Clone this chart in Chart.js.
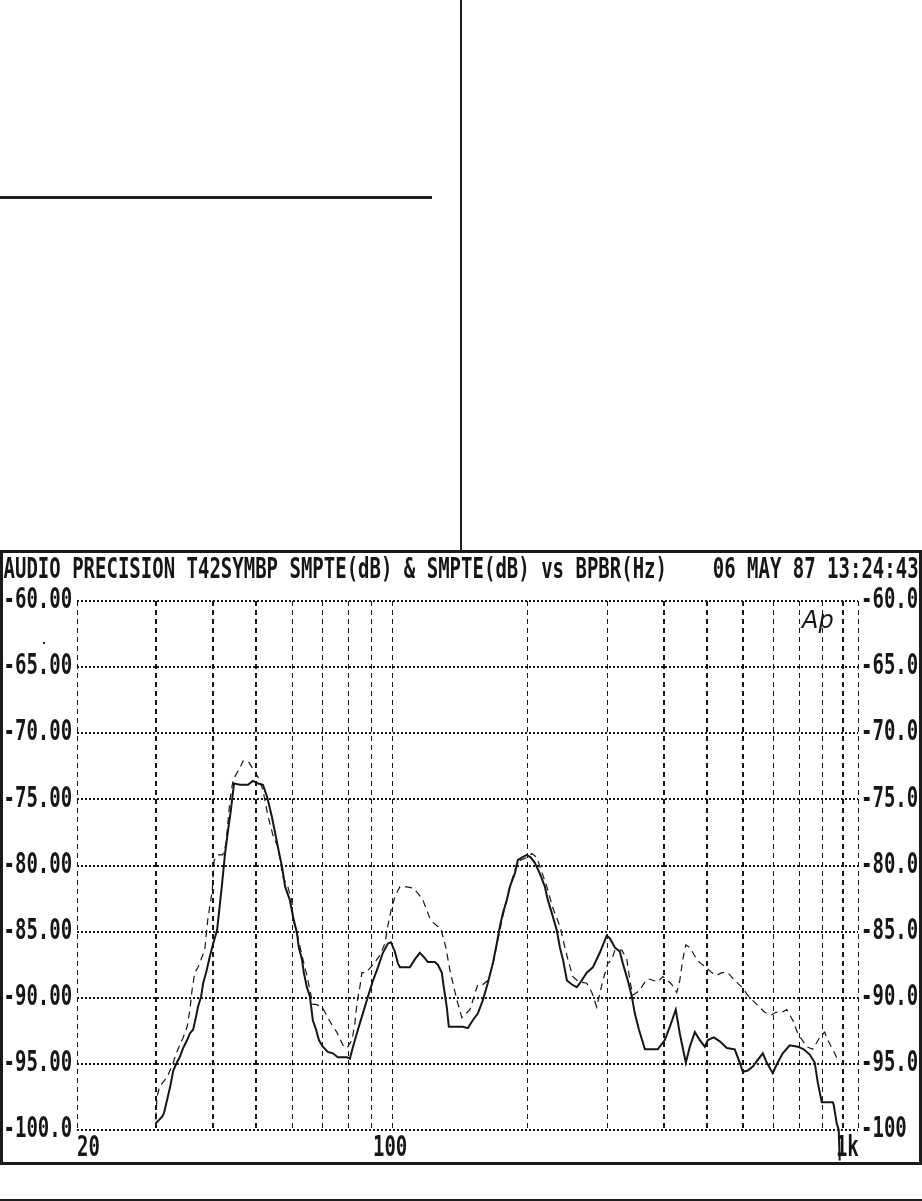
<!DOCTYPE html>
<html>
<head>
<meta charset="utf-8">
<title>SMPTE vs BPBR</title>
<script src="https://cdn.jsdelivr.net/npm/chart.js@4.4.1/dist/chart.umd.min.js"></script>
<style>
  body { margin: 0; background: #fff; width: 922px; height: 1201px; position: relative; overflow: hidden; }
  .rule { position: absolute; background: #1e1e1e; }
  #frame { position: absolute; left: 0; top: 550px; width: 916px; height: 609px; border: 3px solid #1a1a1a; background: #fff; }
  #frame canvas { display: block; }
</style>
</head>
<body>
<div class="rule" style="left:460px;top:0;width:1.5px;height:551px"></div>
<div class="rule" style="left:0;top:196px;width:432px;height:2.5px"></div>
<div id="frame"><canvas id="apChart" width="916" height="609"></canvas></div>
<div class="rule" style="left:0;top:1199px;width:922px;height:1.5px"></div>
<div class="rule" style="left:43px;top:642px;width:2px;height:2px"></div>
<script>
// ---- data ----
const titleText = 'AUDIO PRECISION T42SYMBP SMPTE(dB) & SMPTE(dB) vs BPBR(Hz)    06 MAY 87 13:24:43';

const xGridTicks = [20, 30, 40, 50, 60, 70, 80, 90, 100, 200, 300, 400, 500, 600, 700, 800, 900, 1000, 1080];
const xLabelValues = [20, 100, 1000];
const xLabels = ['20', '100', '1k'];

const yTicks = [-60, -65, -70, -75, -80, -85, -90, -95, -100];
const yLabelsLeft = ['-60.00', '-65.00', '-70.00', '-75.00', '-80.00', '-85.00', '-90.00', '-95.00', '-100.0'];
const yLabelsRight = ['-60.0', '-65.0', '-70.0', '-75.0', '-80.0', '-85.0', '-90.0', '-95.0', '-100'];

// solid trace
const solidFreq = [29.9, 30.9, 31.2, 31.7, 32.2, 32.7, 33.3, 33.8, 34.4, 35.1, 35.6, 36.2, 36.7, 37.1, 37.7, 38.1, 38.8, 39.4, 40.1, 40.9,
  41.9, 42.6, 43.2, 43.9, 44.6, 46.0, 47.9, 49.1, 50.4, 51.7, 52.8, 54.1, 55.0, 55.8, 57.0, 57.9, 59.3, 60.3, 61.5, 62.1,
  63.1, 63.7, 64.7, 65.7, 66.7, 67.8, 68.8, 70.2, 72.0, 73.9, 75.8, 79.4, 80.6, 81.9, 84.0, 86.1, 88.4, 90.7, 93.0, 95.4,
  97.9, 99.4, 101.4, 103.0, 104.1, 109.5, 112.3, 115.2, 118.2, 120.0, 124.4, 126.3, 128.9, 130.2, 132.2, 133.6, 135.7, 143.5, 147.2, 151.0,
  154.9, 158.9, 163.0, 167.3, 170.7, 173.4, 176.1, 179.7, 182.5, 187.2, 190.0, 193.9, 199.0, 203.1, 207.3, 212.6, 218.2, 221.5, 226.1, 231.9,
  235.6, 239.3, 244.2, 250.5, 256.9, 260.9, 270.2, 278.8, 288.8, 299.3, 304.0, 312.0, 320.0, 324.9, 333.3, 340.2, 345.5, 352.7, 363.7, 388.4,
  402.6, 413.0, 425.8, 434.6, 448.2, 457.5, 469.3, 481.5, 493.9, 501.5, 517.1, 533.2, 552.6, 575.5, 590.4, 599.6, 615.0, 631.0, 647.3, 664.1,
  677.7, 698.7, 716.8, 735.4, 762.2, 794.1, 818.6, 844.0, 865.9, 879.3, 897.5, 949.3, 954.0, 968.7, 978.8, 983.7];
const solidDb = [-99.5, -99.0, -98.7, -97.7, -96.7, -95.5, -94.9, -94.5, -93.8, -93.2, -92.7, -92.4, -91.5, -90.7, -89.9, -88.9, -87.9, -86.9, -85.9, -84.9,
  -81.6, -79.1, -77.5, -75.8, -73.8, -73.9, -73.9, -73.6, -73.8, -73.9, -74.8, -76.3, -77.5, -78.6, -80.1, -81.6, -82.6, -83.9, -85.1, -86.2,
  -87.1, -88.1, -89.2, -89.9, -91.7, -92.4, -93.2, -93.7, -94.1, -94.2, -94.5, -94.5, -94.6, -93.7, -92.4, -91.2, -89.9, -88.7, -87.7, -86.6,
  -85.9, -85.8, -86.5, -87.4, -87.7, -87.7, -87.1, -86.6, -87.0, -87.3, -87.3, -87.5, -88.1, -89.2, -90.7, -92.2, -92.2, -92.2, -92.3, -91.7,
  -91.2, -90.2, -88.9, -87.4, -85.9, -84.6, -83.6, -82.6, -81.6, -80.6, -79.6, -79.4, -79.2, -79.4, -79.8, -80.6, -81.6, -82.6, -83.6, -84.9,
  -86.2, -87.1, -88.7, -89.0, -89.2, -88.9, -88.1, -87.7, -86.6, -85.3, -85.5, -86.2, -86.5, -87.4, -88.7, -89.9, -91.2, -92.4, -93.9, -93.9,
  -93.2, -92.2, -90.9, -92.7, -94.9, -93.7, -92.6, -93.2, -93.7, -93.2, -93.0, -93.3, -93.8, -93.9, -94.9, -95.6, -95.5, -95.2, -94.7, -94.2,
  -94.9, -95.7, -94.9, -94.2, -93.6, -93.7, -93.9, -94.3, -94.9, -96.4, -97.9, -97.9, -98.1, -99.5, -100.0, -102.3];

// dashed trace
const dashFreq = [29.9, 30.1, 30.5, 31.7, 32.7, 33.2, 34.4, 35.1, 35.6, 36.0, 36.5, 37.1, 38.4, 39.0, 39.9, 40.3, 41.1, 42.1, 42.8, 43.7,
  44.4, 46.0, 46.7, 47.9, 49.6, 50.4, 51.7, 53.0, 54.4, 55.8, 57.3, 58.7, 59.9, 60.3, 61.5, 63.1, 64.7, 65.7, 66.7, 67.8,
  69.9, 71.0, 73.9, 75.4, 77.8, 79.4, 81.5, 82.7, 83.6, 84.8, 85.7, 87.5, 90.7, 93.9, 96.4, 97.9, 99.9, 101.9, 104.1, 106.7,
  111.2, 114.1, 117.0, 121.3, 123.2, 128.3, 131.6, 134.3, 137.1, 139.3, 142.8, 145.8, 148.8, 151.0, 154.9, 158.9, 163.0, 167.3, 170.7, 176.1,
  182.5, 190.0, 199.0, 204.2, 209.4, 220.4, 227.2, 235.6, 241.7, 245.4, 251.7, 259.6, 270.2, 277.4, 284.4, 293.4, 301.0, 307.2, 312.0, 323.3,
  331.6, 336.8, 342.0, 349.1, 354.5, 367.2, 372.8, 388.4, 398.6, 408.9, 417.3, 428.0, 434.6, 441.4, 448.2, 457.5, 474.1, 483.8, 496.3, 511.8,
  525.1, 538.7, 555.3, 575.5, 596.5, 621.3, 644.0, 670.8, 695.0, 709.4, 731.8, 750.6, 774.0, 794.1, 831.1, 856.9, 888.2, 911.1, 925.2, 958.8, 973.7];
const dashDb = [-99.2, -97.5, -96.7, -96.0, -94.9, -94.2, -93.0, -92.2, -90.9, -89.4, -88.1, -87.7, -86.4, -84.1, -81.9, -79.6, -79.2, -79.2, -78.4, -75.0,
  -73.5, -72.6, -72.1, -72.1, -72.9, -73.3, -74.3, -76.2, -77.7, -78.6, -80.9, -81.6, -82.6, -84.1, -85.1, -86.8, -88.3, -89.4, -90.5, -90.5,
  -90.7, -91.1, -92.2, -92.6, -93.6, -93.8, -93.2, -91.9, -90.4, -89.2, -88.1, -88.1, -87.5, -86.8, -85.9, -84.5, -83.1, -82.2, -81.6, -81.6,
  -81.7, -82.1, -82.6, -84.0, -84.3, -84.8, -86.2, -87.9, -89.2, -90.2, -91.5, -91.2, -90.9, -90.2, -89.0, -89.0, -88.7, -87.5, -86.0, -83.8,
  -81.6, -79.7, -79.4, -79.1, -79.4, -81.6, -83.2, -84.6, -86.2, -87.1, -88.4, -88.8, -88.9, -89.6, -90.7, -88.7, -87.4, -87.1, -86.4, -86.4,
  -87.1, -88.7, -89.8, -89.6, -89.4, -88.6, -88.6, -88.8, -88.4, -88.7, -89.0, -89.6, -88.7, -87.1, -86.0, -86.2, -87.1, -87.4, -87.7, -88.1,
  -88.3, -88.1, -88.1, -88.7, -89.2, -90.0, -90.5, -91.1, -91.3, -91.1, -91.1, -90.9, -91.7, -92.7, -93.7, -93.9, -93.0, -92.6, -93.2, -94.2, -94.7];

// ---- styling ----
const INK = '#161616';
const LABEL_FONT = 'bold 19px "DejaVu Sans Mono"';
const STRETCH = 1.45;
const boldX = [30, 40, 50, 400, 500, 600, 1000];

function toPoints(xs, ys) {
    return xs.map((f, i) => ({ x: f, y: ys[i] }));
}

// tall, narrow terminal-like lettering
function drawTall(ctx, text, x, y, align) {
    ctx.save();
    ctx.translate(x, y);
    ctx.scale(1, STRETCH);
    ctx.textAlign = align;
    ctx.textBaseline = 'middle';
    ctx.fillText(text, 0, 0);
    ctx.restore();
}

const apText = {
    id: 'apText',
    afterDraw(chart) {
        const { ctx, scales: { x, y } } = chart;
        ctx.save();
        ctx.fillStyle = INK;
        ctx.font = LABEL_FONT;
        drawTall(ctx, titleText, 0.5, 18, 'left');

        yTicks.forEach((v, i) => {
            const py = y.getPixelForValue(v);
            drawTall(ctx, yLabelsLeft[i], 0.5, py, 'left');
            drawTall(ctx, yLabelsRight[i], 858, py, 'left');
        });

        const labelY = y.getPixelForValue(-100) + 19;
        xLabelValues.forEach((v, i) => {
            const px = x.getPixelForValue(v);
            if (i === 0) drawTall(ctx, xLabels[i], px, labelY, 'left');
            else if (i === xLabels.length - 1) drawTall(ctx, xLabels[i], px - 7, labelY, 'left');
            else drawTall(ctx, xLabels[i], px - 2, labelY, 'center');
        });

        // Ap logo
        ctx.font = 'italic 200 24px "DejaVu Sans"';
        ctx.textAlign = 'left';
        ctx.textBaseline = 'alphabetic';
        ctx.fillText('Ap', 799, 75);
        ctx.restore();
    }
};

const ctx = document.getElementById('apChart').getContext('2d');

new Chart(ctx, {
    type: 'line',
    data: {
        datasets: [
            {
                label: 'SMPTE(dB) A',
                data: toPoints(solidFreq, solidDb),
                borderColor: INK,
                borderWidth: 2,
                pointRadius: 0,
                tension: 0,
                fill: false,
                clip: false
            },
            {
                label: 'SMPTE(dB) B',
                data: toPoints(dashFreq, dashDb),
                borderColor: INK,
                borderWidth: 1.2,
                borderDash: [7, 5],
                pointRadius: 0,
                tension: 0,
                fill: false
            }
        ]
    },
    options: {
        responsive: false,
        animation: false,
        devicePixelRatio: 1,
        layout: { padding: { left: 74, right: 61, top: 48, bottom: 32 } },
        plugins: {
            legend: { display: false },
            tooltip: { enabled: false },
            title: { display: false }
        },
        scales: {
            x: {
                type: 'logarithmic',
                min: 20,
                max: 1080,
                afterBuildTicks: s => { s.ticks = xGridTicks.map(v => ({ value: v })); },
                ticks: { display: false },
                grid: {
                    color: INK,
                    lineWidth: c => (c.tick && boldX.includes(c.tick.value)) ? 2 : 1,
                    drawTicks: false
                },
                border: { display: false, dash: [5, 4] }
            },
            y: {
                type: 'linear',
                min: -100,
                max: -60,
                afterBuildTicks: s => { s.ticks = yTicks.map(v => ({ value: v })); },
                ticks: { display: false },
                grid: { color: INK, lineWidth: 2, drawTicks: false },
                border: { display: false, dash: [2, 2] }
            }
        }
    },
    plugins: [apText]
});
</script>
</body>
</html>
